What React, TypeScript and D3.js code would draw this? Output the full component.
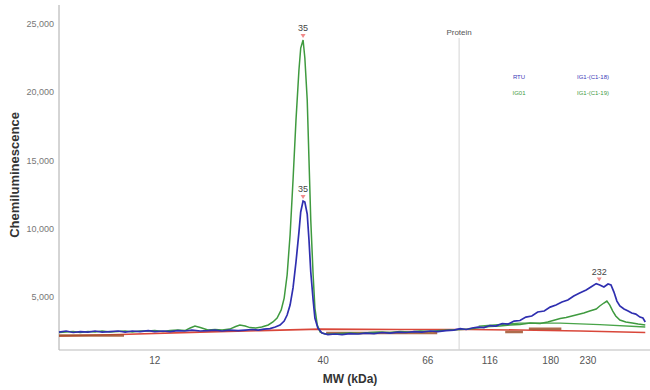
import * as React from "react"
import * as d3 from "d3"

// migration position (0-100 across the plot) and chemiluminescence signal
const blueTrace: [number, number][] = [
  [0, 2450], [1.2, 2530], [2.4, 2420], [3.6, 2490], [4.9, 2450], [6.1, 2530], [7.3, 2450], [8.6, 2490],
  [10.0, 2530], [11.2, 2450], [12.4, 2530], [13.7, 2490], [15.1, 2560], [16.2, 2490], [17.6, 2530],
  [18.8, 2490], [20.1, 2560], [21.3, 2530], [22.5, 2600], [23.9, 2530], [25.2, 2560], [26.4, 2600],
  [27.6, 2530], [28.9, 2600], [30.3, 2560], [31.5, 2600], [32.7, 2640], [33.7, 2600], [34.7, 2670],
  [35.7, 2710], [36.6, 2820], [37.4, 2970], [38.1, 3260], [38.6, 3700], [39.1, 4430], [39.6, 5680],
  [40.1, 7580], [40.6, 9770], [40.9, 11240], [41.3, 12040], [41.6, 11970], [42.0, 11090], [42.3, 9190],
  [42.6, 6850], [43.0, 4800], [43.3, 3480], [43.8, 2750], [44.5, 2380], [45.5, 2270], [46.7, 2310],
  [47.9, 2270], [49.2, 2340], [50.6, 2310], [51.9, 2380], [53.3, 2340], [54.7, 2420], [56.0, 2380],
  [57.4, 2450], [58.7, 2420], [60.1, 2490], [61.4, 2450], [62.8, 2530], [64.1, 2490], [65.5, 2560],
  [66.8, 2600], [67.9, 2710], [68.9, 2640], [69.9, 2750], [70.9, 2820], [71.9, 2780], [72.9, 2930],
  [73.9, 2890], [75.0, 3080], [76.0, 3040], [77.0, 3260], [78.0, 3300], [79.0, 3550], [80.0, 3630],
  [81.0, 3920], [82.1, 3990], [83.1, 4280], [84.1, 4430], [85.1, 4650], [86.1, 4800], [87.1, 5090],
  [88.1, 5310], [89.2, 5530], [90.0, 5750], [90.9, 6000], [91.5, 5900], [92.2, 5750], [92.9, 5970],
  [93.4, 5900], [93.9, 5380], [94.4, 4720], [94.9, 4360], [95.6, 4140], [96.3, 3990], [96.9, 3850],
  [97.6, 3770], [98.3, 3550], [98.8, 3480], [99.2, 3190],
]

const greenTrace: [number, number][] = [
  [0, 2420], [1.2, 2450], [2.4, 2490], [3.6, 2420], [4.9, 2490], [6.1, 2450], [7.3, 2530], [8.6, 2450],
  [10.0, 2490], [11.2, 2530], [12.4, 2450], [13.7, 2530], [15.1, 2530], [16.2, 2560], [17.6, 2490],
  [18.8, 2560], [20.1, 2600], [21.3, 2560], [22.2, 2750], [23.0, 2890], [23.9, 2780], [25.2, 2600],
  [26.4, 2640], [27.6, 2600], [28.9, 2670], [29.9, 2860], [30.6, 2970], [31.5, 2890], [32.3, 2780],
  [33.3, 2750], [34.3, 2820], [35.4, 2970], [36.2, 3190], [36.9, 3480], [37.6, 4070], [38.1, 4940],
  [38.6, 6630], [39.1, 9560], [39.6, 13580], [40.1, 17970], [40.6, 21630], [40.9, 23240], [41.3, 23830],
  [41.6, 22510], [42.0, 19440], [42.3, 15040], [42.6, 10650], [43.0, 6630], [43.3, 4210], [43.7, 2970],
  [44.2, 2450], [45.0, 2310], [46.2, 2310], [47.5, 2340], [49.2, 2380], [50.9, 2340], [52.6, 2420],
  [54.3, 2450], [56.0, 2420], [57.7, 2490], [59.4, 2450], [61.1, 2530], [62.8, 2490], [64.5, 2560],
  [66.2, 2600], [67.9, 2640], [69.5, 2670], [71.2, 2780], [72.9, 2860], [74.6, 2890], [76.3, 2970],
  [78.0, 3000], [79.7, 3110], [81.4, 3080], [82.7, 3190], [83.9, 3330], [84.8, 3440], [85.8, 3520],
  [86.8, 3630], [87.8, 3740], [88.8, 3850], [89.8, 3990], [90.9, 4140], [91.5, 4360], [92.2, 4580],
  [92.7, 4720], [93.2, 4430], [93.7, 3990], [94.2, 3630], [94.9, 3330], [95.9, 3190], [97.0, 3110],
  [98.0, 3040], [99.2, 2970],
]

const redBaseline: [number, number][] = [
  [0, 2160], [10.3, 2270], [23.9, 2450], [34.0, 2560], [44.2, 2670], [57.7, 2640], [69.5, 2640],
  [78.0, 2600], [88.2, 2530], [99.2, 2420],
]

const greenBaseline: [number, number][] = [
  [71.0, 2890], [78.0, 3110], [84.8, 3110], [91.5, 3000], [99.2, 2820],
]

// fitted baseline pieces, null marks a gap
const baselineSegments: [number, number | null][] = [
  [0, 2200], [11.0, 2200], [11.1, null],
  [45.2, 2380], [64.0, 2380], [64.1, null],
  [75.5, 2450], [78.5, 2450], [78.6, null],
  [79.5, 2700], [85.0, 2700],
]

const xTickLabels = ["12", "40", "66", "116", "180", "230"]
const xTickPositions = [16.2, 44.7, 62.4, 72.9, 83.2, 89.5]
const yTicks = [5000, 10000, 15000, 20000, 25000]

const peakLabels = ["35", "35", "232"]
const peakPositions = [41.3, 41.3, 91.4]
const peakValues = [23830, 12040, 6000]

const proteinPosition = 67.7

const legendNames = ["RTU", "IG01"]
const legendAntibodies = ["IG1-(C1-18)", "IG1-(C1-19)"]

const W = 650
const H = 390
const left = 59
const right = 650
const top = 5
const bottom = 350

export default function App() {
  const x = d3.scaleLinear().domain([0, 100]).range([left, right])
  const y = d3.scaleLinear().domain([1140, 26390]).range([bottom, top])

  const line = d3
    .line<[number, number]>()
    .x((d) => x(d[0]))
    .y((d) => y(d[1]))

  const gapLine = d3
    .line<[number, number | null]>()
    .defined((d) => d[1] !== null)
    .x((d) => x(d[0]))
    .y((d) => y(d[1] as number))

  const font = "Liberation Sans, Arial, sans-serif"
  const legendColors = ["#3a3ab8", "#3f9a3f"]

  return (
    <svg width={W} height={H} style={{ position: "absolute", left: 0, top: 0 }} fontFamily={font}>
      <rect width={W} height={H} fill="#fff" />

      {/* axes */}
      <line x1={left} x2={left} y1={top} y2={bottom} stroke="#aaa" />
      <line x1={left} x2={right} y1={bottom} y2={bottom} stroke="#bbb" />

      {yTicks.map((t) => (
        <text key={t} x={54} y={y(t)} dy="0.35em" textAnchor="end" fontSize={9} fill="#777">
          {d3.format(",")(t)}
        </text>
      ))}
      {xTickLabels.map((t, i) => (
        <text key={t} x={x(xTickPositions[i])} y={364} textAnchor="middle" fontSize={10} fill="#555">
          {t}
        </text>
      ))}

      <text x={350} y={383} textAnchor="middle" fontSize={12} fontWeight="bold" fill="#333">
        MW (kDa)
      </text>
      <text
        transform={`translate(19,175) rotate(-90)`}
        textAnchor="middle"
        fontSize={13}
        fontWeight="bold"
        fill="#333"
      >
        Chemiluminescence
      </text>

      {/* protein marker */}
      <line x1={x(proteinPosition)} x2={x(proteinPosition)} y1={38} y2={bottom} stroke="#d4d4d4" />
      <text x={x(proteinPosition)} y={35} textAnchor="middle" fontSize={8} fill="#555">
        Protein
      </text>

      {/* legend */}
      {legendNames.map((n, i) => (
        <g key={n} fontSize={6} fill={legendColors[i]}>
          <text x={519} y={79 + i * 16} textAnchor="middle">{n}</text>
          <text x={593} y={79 + i * 16} textAnchor="middle">{legendAntibodies[i]}</text>
        </g>
      ))}

      {/* traces */}
      <path d={line(redBaseline) ?? ""} fill="none" stroke="#d9473a" strokeWidth={1.6} />
      <path d={gapLine(baselineSegments) ?? ""} fill="none" stroke="#a0522d" strokeWidth={2.5} opacity={0.85} />
      <path d={line(greenBaseline) ?? ""} fill="none" stroke="#49a449" strokeWidth={1.4} />
      <path d={line(greenTrace) ?? ""} fill="none" stroke="#3f9a3f" strokeWidth={1.5} />
      <path d={line(blueTrace) ?? ""} fill="none" stroke="#2f2fb0" strokeWidth={1.7} />

      {/* peak labels */}
      {peakLabels.map((p, i) => {
        const px = x(peakPositions[i])
        const py = y(peakValues[i])
        return (
          <g key={i}>
            <path d={`M${px - 2.5},${py - 6}L${px + 2.5},${py - 6}L${px},${py - 2}Z`} fill="#f08a8a" />
            <text x={px} y={py - 9} textAnchor="middle" fontSize={9} fill="#444">
              {p}
            </text>
          </g>
        )
      })}
    </svg>
  )
}
